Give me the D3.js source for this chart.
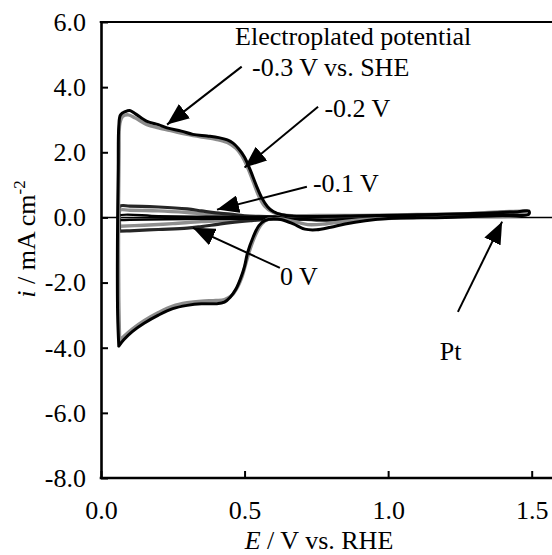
<!DOCTYPE html>
<html>
<head>
<meta charset="utf-8">
<script src="https://cdn.jsdelivr.net/npm/d3@7"></script>
<style>
  body { margin: 0; background: #fff; }
  text { font-family: "Liberation Serif", "Times New Roman", serif; fill: #000; }
  .axis path, .axis line { stroke: #000; }
</style>
</head>
<body>
<div id="container1"></div>
<script>
// E / V vs. RHE and i / mA cm-2 (anodic sweep then cathodic sweep)
const eM03 = [0.062,0.058,0.057,0.058,0.06,0.062,0.068,0.085,0.1,0.12,0.16,0.2,0.23,0.28,0.32,0.37,0.41,0.44,0.46,0.48,0.5,0.52,0.54,0.56,0.58,0.6,0.63,0.67,0.75,0.9,1.1,1.3,1.45,1.49,
              1.49,1.4,1.2,1.0,0.92,0.85,0.8,0.75,0.71,0.67,0.63,0.6,0.57,0.55,0.53,0.51,0.5,0.485,0.47,0.45,0.43,0.4,0.35,0.3,0.25,0.2,0.15,0.11,0.08,0.062];
const iM03 = [-3.95,-3.0,-1.5,0,1.5,2.8,3.15,3.25,3.28,3.18,2.95,2.85,2.75,2.65,2.55,2.5,2.45,2.38,2.28,2.1,1.85,1.45,1.0,0.6,0.33,0.18,0.08,0.04,0.03,0.05,0.08,0.12,0.17,0.2,
              0.1,0.06,0.0,-0.03,-0.1,-0.2,-0.3,-0.38,-0.36,-0.2,-0.07,-0.04,-0.1,-0.25,-0.6,-1.1,-1.5,-1.9,-2.2,-2.45,-2.6,-2.65,-2.65,-2.7,-2.8,-3.0,-3.25,-3.5,-3.75,-3.95];

const eM02 = [0.065,0.062,0.061,0.063,0.066,0.075,0.095,0.12,0.16,0.2,0.25,0.3,0.35,0.4,0.44,0.47,0.49,0.51,0.53,0.55,0.57,0.6,0.65,0.75,0.9,1.1,1.3,1.45,1.48,
              1.48,1.3,1.1,0.95,0.85,0.78,0.72,0.67,0.62,0.58,0.56,0.54,0.52,0.505,0.49,0.475,0.455,0.43,0.4,0.35,0.3,0.25,0.2,0.15,0.11,0.08,0.065];
const iM02 = [-3.8,-2.5,0,2.0,2.9,3.1,3.15,3.05,2.85,2.75,2.65,2.55,2.47,2.4,2.3,2.12,1.9,1.55,1.1,0.65,0.35,0.15,0.06,0.06,0.06,0.09,0.12,0.17,0.19,
              0.12,0.05,0.0,-0.05,-0.12,-0.2,-0.22,-0.12,-0.04,-0.06,-0.2,-0.5,-0.95,-1.4,-1.85,-2.15,-2.4,-2.52,-2.55,-2.57,-2.62,-2.72,-2.92,-3.17,-3.42,-3.65,-3.8];

const eM01 = [0.065,0.063,0.065,0.1,0.2,0.3,0.35,0.4,0.45,0.5,0.55,0.6,0.7,0.9,1.1,1.3,1.48,
              1.48,1.3,1.1,0.95,0.85,0.75,0.68,0.6,0.52,0.45,0.4,0.35,0.3,0.2,0.1,0.065];
const iM01 = [-0.42,0,0.34,0.35,0.32,0.26,0.2,0.14,0.1,0.05,0.03,0.02,0.03,0.05,0.07,0.1,0.17,
              0.12,0.05,0.01,-0.02,-0.06,-0.08,-0.05,-0.05,-0.1,-0.16,-0.22,-0.28,-0.33,-0.37,-0.41,-0.42];

const eZero = [0.065,0.064,0.066,0.1,0.2,0.3,0.4,0.5,0.6,0.8,1.0,1.2,1.48,
               1.48,1.2,1.0,0.85,0.75,0.65,0.55,0.45,0.35,0.25,0.15,0.065];
const iZero = [-0.27,0,0.22,0.22,0.2,0.15,0.08,0.03,0.01,0.03,0.05,0.08,0.15,
               0.1,0.02,-0.01,-0.03,-0.05,-0.03,-0.05,-0.09,-0.13,-0.19,-0.24,-0.27];

const ePt = [0.06,0.06,0.2,0.4,0.6,0.8,1.0,1.2,1.4,1.49,
             1.49,1.3,1.1,0.9,0.78,0.7,0.5,0.3,0.1,0.06];
const iPt = [-0.08,0.05,0.04,0.02,0.02,0.04,0.06,0.09,0.13,0.18,
             0.1,0.05,0.0,-0.04,-0.08,-0.05,-0.04,-0.05,-0.07,-0.08];

const xTicks = [0, 0.5, 1.0, 1.5];
const yTicks = [-8, -6, -4, -2, 0, 2, 4, 6];

// label, text anchor (E, i), arrow start (E, i), arrow tip (E, i)
const notes = [
  ["Electroplated potential", [0.467, 5.28], null, null],
  ["-0.3 V vs. SHE", [0.526, 4.35], [0.49, 4.63], [0.23, 2.85]],
  ["-0.2 V", [0.778, 3.09], [0.756, 3.4], [0.50, 1.53]],
  ["-0.1 V", [0.738, 0.79], [0.717, 0.94], [0.404, 0.24]],
  ["0 V", [0.623, -2.07], [0.623, -1.55], [0.32, -0.32]],
  ["Pt", [1.18, -4.38], [1.243, -2.9], [1.397, -0.13]]
];

const w = 552;
const h = 555;
const padL = 101, padR = 531.7, padT = 22, padB = 478;

const svg = d3.select("#container1")
  .append("svg")
  .attr("width", w)
  .attr("height", h);

const xScale = d3.scaleLinear().domain([0, 1.5]).range([padL, padR]);
const yScale = d3.scaleLinear().domain([-8, 6]).range([padB, padT]);

const fmt = d => d.toFixed(1);

// axes, ticks pointing inward
svg.append("g")
  .attr("class", "axis")
  .attr("transform", `translate(${padL},0)`)
  .call(d3.axisLeft(yScale).tickValues(yTicks).tickFormat(fmt).tickSizeInner(-7).tickSizeOuter(0).tickPadding(15))
  .call(g => g.select(".domain").attr("stroke-width", 2.6))
  .call(g => g.selectAll("line").attr("stroke-width", 2))
  .call(g => g.selectAll("text").attr("font-size", 26).attr("font-family", "Liberation Serif"));

svg.append("g")
  .attr("class", "axis")
  .attr("transform", `translate(0,${padB})`)
  .call(d3.axisBottom(xScale).tickValues(xTicks).tickFormat(fmt).tickSizeInner(-7).tickSizeOuter(0).tickPadding(23))
  .call(g => g.select(".domain").remove())
  .call(g => g.selectAll("line").attr("stroke-width", 2))
  .call(g => g.selectAll("text").attr("font-size", 26).attr("font-family", "Liberation Serif"));

// bottom and top frame lines run past the right edge
svg.append("line").attr("x1", padL - 1.3).attr("x2", w).attr("y1", padB).attr("y2", padB)
  .attr("stroke", "#000").attr("stroke-width", 2.6);
svg.append("line").attr("x1", padL - 1.3).attr("x2", w).attr("y1", padT).attr("y2", padT)
  .attr("stroke", "#000").attr("stroke-width", 2);

// zero line
svg.append("line").attr("x1", padL).attr("x2", w).attr("y1", yScale(0)).attr("y2", yScale(0))
  .attr("stroke", "#000").attr("stroke-width", 1.5);

const line = d3.line()
  .x(d => xScale(d[0]))
  .y(d => yScale(d[1]))
  .curve(d3.curveCatmullRom.alpha(0.5));

const curves = [
  [eZero, iZero, "#8f8f8f", 3.4],
  [eM01, iM01, "#262626", 3.2],
  [ePt, iPt, "#000", 2.4],
  [eM02, iM02, "#8c8c8c", 3.4],
  [eM03, iM03, "#000", 3]
];

svg.selectAll("path.cv")
  .data(curves)
  .enter()
  .append("path")
  .attr("class", "cv")
  .attr("d", d => line(d[0].map((e, k) => [e, d[1][k]])))
  .attr("fill", "none")
  .attr("stroke", d => d[2])
  .attr("stroke-width", d => d[3])
  .attr("stroke-linejoin", "round")
  .attr("stroke-linecap", "round");

// arrow heads
svg.append("defs").append("marker")
  .attr("id", "head")
  .attr("markerUnits", "userSpaceOnUse")
  .attr("viewBox", "0 0 22 18")
  .attr("refX", 22).attr("refY", 9)
  .attr("markerWidth", 22).attr("markerHeight", 18)
  .attr("orient", "auto")
  .append("path")
  .attr("d", "M0,0 L22,9 L0,18 Z")
  .attr("fill", "#000");

const ann = svg.append("g");

ann.selectAll("line")
  .data(notes.filter(d => d[2]))
  .enter()
  .append("line")
  .attr("x1", d => xScale(d[2][0]))
  .attr("y1", d => yScale(d[2][1]))
  .attr("x2", d => xScale(d[3][0]))
  .attr("y2", d => yScale(d[3][1]))
  .attr("stroke", "#000")
  .attr("stroke-width", 2)
  .attr("marker-end", "url(#head)");

ann.selectAll("text")
  .data(notes)
  .enter()
  .append("text")
  .attr("x", d => xScale(d[1][0]))
  .attr("y", d => yScale(d[1][1]))
  .attr("font-size", 26)
  .text(d => d[0]);

// axis titles
const xt = svg.append("text")
  .attr("x", 319)
  .attr("y", 549)
  .attr("text-anchor", "middle")
  .attr("font-size", 26);
xt.append("tspan").attr("font-style", "italic").text("E");
xt.append("tspan").text(" / V vs. RHE");

const yt = svg.append("text")
  .attr("transform", "translate(35,239) rotate(-90)")
  .attr("text-anchor", "middle")
  .attr("font-size", 26);
yt.append("tspan").attr("font-style", "italic").text("i");
yt.append("tspan").text(" / mA cm");
yt.append("tspan").attr("font-size", 17).attr("dy", -10).text("-2");
</script>
</body>
</html>
